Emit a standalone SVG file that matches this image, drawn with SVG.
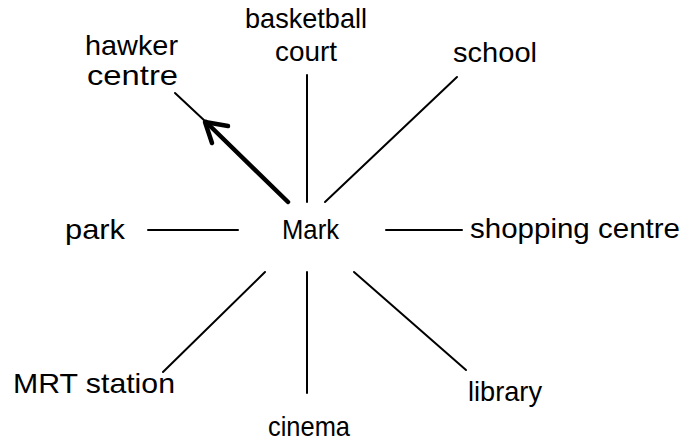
<svg xmlns="http://www.w3.org/2000/svg" width="683" height="444" viewBox="0 0 683 444">
<style>
text{font-family:"Liberation Sans",Arial,sans-serif;font-size:28px;fill:#000}
.c line,.c polyline{stroke:#000;stroke-width:2;fill:none;stroke-linecap:round}
</style>
<rect width="683" height="444" fill="#fff"/>
<g id="hawker-centre"><text x="85" y="55" textLength="93" lengthAdjust="spacingAndGlyphs">hawker</text><text x="87" y="85" textLength="91" lengthAdjust="spacingAndGlyphs">centre</text></g>
<g id="basketball-court"><text x="245" y="28" textLength="122" lengthAdjust="spacingAndGlyphs">basketball</text><text x="275" y="61" textLength="62" lengthAdjust="spacingAndGlyphs">court</text></g>
<g id="school"><text x="453" y="62" textLength="84" lengthAdjust="spacingAndGlyphs">school</text></g>
<g id="park"><text x="65" y="239" textLength="60" lengthAdjust="spacingAndGlyphs">park</text></g>
<g id="mark"><text x="282" y="239" textLength="57" lengthAdjust="spacingAndGlyphs">Mark</text></g>
<g id="shopping-centre"><text x="470" y="238" textLength="210" lengthAdjust="spacingAndGlyphs">shopping centre</text></g>
<g id="mrt-station"><text x="13" y="393" textLength="162" lengthAdjust="spacingAndGlyphs">MRT station</text></g>
<g id="cinema"><text x="268" y="436" textLength="82" lengthAdjust="spacingAndGlyphs">cinema</text></g>
<g id="library"><text x="468" y="401" textLength="74" lengthAdjust="spacingAndGlyphs">library</text></g>
<g id="connectors" class="c">
<line x1="307" y1="75" x2="307" y2="202"/>
<line x1="457" y1="77" x2="325" y2="202"/>
<line x1="148" y1="230" x2="238" y2="230"/>
<line x1="386" y1="230" x2="462" y2="230"/>
<line x1="265" y1="272" x2="163" y2="372"/>
<line x1="307" y1="272" x2="307" y2="393"/>
<line x1="354" y1="272" x2="466" y2="370"/>
<line x1="175" y1="93" x2="206" y2="122"/>
<line x1="288" y1="202" x2="206" y2="122" style="stroke-width:4.5"/>
<polyline points="212,143 205,122 228,126" style="stroke-width:4.5;stroke-linejoin:round"/>
</g>
</svg>
